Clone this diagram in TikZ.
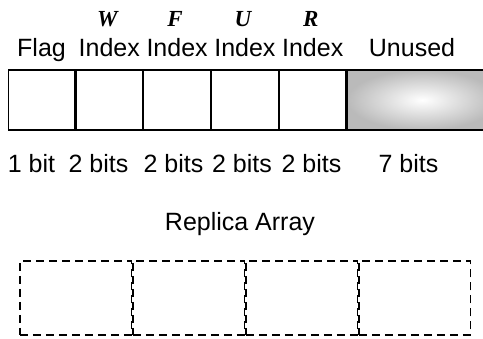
\documentclass[tikz,border=0pt]{standalone}
\usepackage{fontspec}
\setmainfont{Liberation Sans}
\newfontfamily\letterfont{Liberation Serif}
\usetikzlibrary{positioning}

\tikzset{
  field/.style={draw, line width=1.2pt, minimum width=66.6pt, minimum height=60pt, inner sep=0pt},
  unused/.style={field, minimum width=150pt, inner color=white, outer color=black!27, shading=radial},
  replica/.style={draw, line width=1.5pt, dash pattern=on 8pt off 5pt, minimum width=111.5pt, minimum height=74pt, inner sep=0pt},
  lbl/.style={font=\fontsize{25}{30}\selectfont, anchor=base, inner sep=0pt},
  letter/.style={font=\fontsize{23}{27}\selectfont\letterfont\bfseries\itshape, anchor=base, inner sep=0pt}
}

\begin{document}
\begin{tikzpicture}[x=1pt,y=-1pt]
  \useasboundingbox (0,0) rectangle (483,339);
  \def\cy{100}
  \def\lettery{27}
  \def\namey{57}
  \def\bitsy{173}
  % the status word
  \node[field] (flag) at (41.5,\cy) {};
  \node[field, right=0pt of flag] (w) {};
  \node[field, right=0pt of w] (f) {};
  \node[field, right=0pt of f] (u) {};
  \node[field, right=0pt of u] (r) {};
  \node[unused, right=0pt of r] (free) {};
  % field names
  \node[lbl] (flagname) at (flag.center |- 0,\namey) {Flag};
  \node[lbl] (wname) at (w.center |- 0,\namey) {Index};
  \node[lbl] (fname) at (f.center |- 0,\namey) {Index};
  \node[lbl] (uname) at (u.center |- 0,\namey) {Index};
  \node[lbl] (rname) at (r.center |- 0,\namey) {Index};
  \node[lbl] (freename) at (412,\namey) {Unused};
  \node[letter, xshift=-2pt] (wl) at (w.center |- 0,\lettery) {W};
  \node[letter, xshift=-2pt] (fl) at (f.center |- 0,\lettery) {F};
  \node[letter, xshift=-2pt] (ul) at (u.center |- 0,\lettery) {U};
  \node[letter, xshift=-2pt] (rl) at (r.center |- 0,\lettery) {R};
  % field widths
  \node[lbl] (flagbits) at (31.5,\bitsy) {1 bit};
  \node[lbl] (wbits) at (98.5,\bitsy) {2 bits};
  \node[lbl] (fbits) at (173.5,\bitsy) {2 bits};
  \node[lbl] (ubits) at (242,\bitsy) {2 bits};
  \node[lbl] (rbits) at (311.5,\bitsy) {2 bits};
  \node[lbl] (freebits) at (408.5,\bitsy) {7 bits};
  % replica array
  \node[lbl] (arrayname) at (240,231) {Replica Array};
  \node[replica] (rep1) at (75.7,298) {};
  \node[replica, right=0pt of rep1] (rep2) {};
  \node[replica, right=0pt of rep2] (rep3) {};
  \node[replica, right=0pt of rep3] (rep4) {};
\end{tikzpicture}
\end{document}
